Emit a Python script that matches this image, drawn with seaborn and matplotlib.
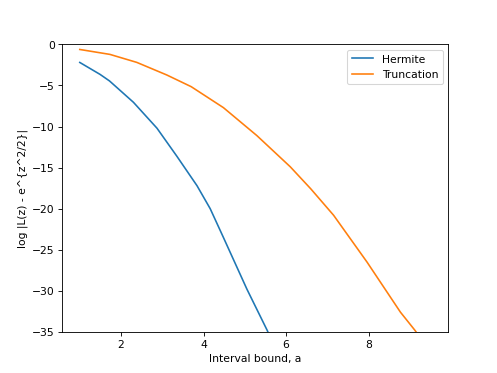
import numpy as np
import pandas as pd
import matplotlib
matplotlib.use('Agg')
import matplotlib.pyplot as plt
import seaborn as sns

# Error curves (clipped at -35 on the plot)
hermite_a = [1.0, 1.49, 1.72, 2.30, 2.87, 3.35, 3.84, 4.16, 4.48, 5.05, 5.54, 6.0, 7.0, 8.0, 9.5]
hermite_err = [-2.2, -3.65, -4.45, -7.05, -10.2, -13.6, -17.2, -20.0, -23.5, -29.8, -34.8, -40.0, -53.0, -68.0, -95.0]

trunc_a = [1.0, 1.73, 2.38, 3.11, 3.7, 4.48, 5.29, 6.10, 6.6, 7.15, 7.96, 8.77, 9.12, 9.5]
trunc_err = [-0.62, -1.22, -2.19, -3.73, -5.15, -7.7, -11.1, -14.9, -17.6, -20.8, -26.5, -32.6, -34.8, -37.5]

fig, ax = plt.subplots(figsize=(6.4, 4.8), dpi=77.8)

sns.lineplot(x=hermite_a, y=hermite_err, label='Hermite', ax=ax)
sns.lineplot(x=trunc_a, y=trunc_err, label='Truncation', ax=ax)

ax.set_ylim(-35, 0)
ax.set_xlabel('Interval bound, a')
ax.set_ylabel('log |L(z) - e^{z^2/2}|')
ax.legend(loc='upper right')

fig.savefig('out.png', dpi=77.8)
